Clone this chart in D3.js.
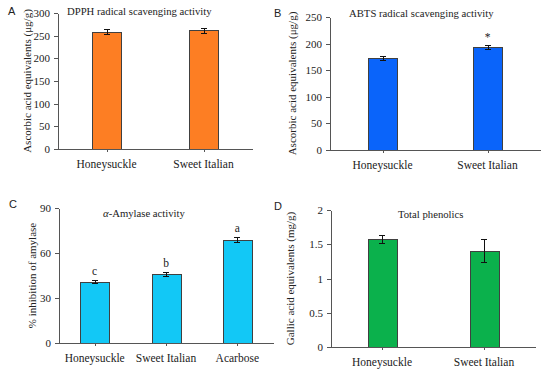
<!DOCTYPE html>
<meta charset="utf-8">
<style>
body { margin: 0; background: #fff; }
svg { display: block; }
.tick text, .xlab, .title, .ylab, .mark { font-family: "Liberation Serif", "Times New Roman", serif; fill: #222; }
.panel { font-family: "Liberation Sans", Arial, sans-serif; font-size: 11px; fill: #222; }
.axis path, .axis line { stroke: #555; shape-rendering: crispEdges; }
.bar { stroke: #404040; stroke-width: 1; shape-rendering: crispEdges; }
.err { stroke: #111; stroke-width: 1; shape-rendering: crispEdges; }
</style>
<body>
<script src="https://cdn.jsdelivr.net/npm/d3@7"></script>
<script>

// data
var cats2 = ["Honeysuckle", "Sweet Italian"];
var cats3 = ["Honeysuckle", "Sweet Italian", "Acarbose"];

var dpphMean = [259, 262];
var dpphErr = [5, 5.5];
var dpphTicks = [0, 50, 100, 150, 200, 250, 300];

var abtsMean = [173, 193];
var abtsErr = [3, 4];
var abtsMarks = ["", "*"];
var abtsTicks = [0, 50, 100, 150, 200, 250];

var amyMean = [41, 46, 69];
var amyErr = [1.2, 1.2, 1.7];
var amyMarks = ["c", "b", "a"];
var amyTicks = [0, 30, 60, 90];

var phenMean = [1.577, 1.406];
var phenErr = [0.055, 0.165];
var phenTicks = [0, 0.5, 1, 1.5, 2];
var phenTickLabels = ["0", "0.5", "1", "1.5", "2"];

var svg = d3.select("body").append("svg")
    .attr("width", 550)
    .attr("height", 377);

var panels = [
  {letter: "A", lx: 8, ly: 15, x0: 58, x1: 252, y0: 149, y1: 13, cats: cats2, mean: dpphMean, err: dpphErr,
   ticks: dpphTicks, color: "#fd7e23", title: "DPPH radical scavenging activity", tx: 67, ty: 15,
   ylab: "Ascorbic acid equivalents (\u03bcg/g)", yl: 27},
  {letter: "B", lx: 274, ly: 17, x0: 330, x1: 540, y0: 150, y1: 17, cats: cats2, mean: abtsMean, err: abtsErr,
   ticks: abtsTicks, color: "#0a64fa", title: "ABTS radical scavenging activity", tx: 349, ty: 17,
   ylab: "Ascorbic acid equivalents (\u03bcg/g)", yl: 292, marks: abtsMarks},
  {letter: "C", lx: 9, ly: 208, x0: 59, x1: 273, y0: 343, y1: 208, cats: cats3, mean: amyMean, err: amyErr,
   ticks: amyTicks, color: "#12c8f6", title: "-Amylase activity", alpha: true, tx: 103, ty: 217,
   ylab: "% inhibition of amylase", yl: 32, marks: amyMarks},
  {letter: "D", lx: 274, ly: 210, x0: 331, x1: 535, y0: 347, y1: 210, cats: cats2, mean: phenMean, err: phenErr,
   ticks: phenTicks, tickLabels: phenTickLabels, color: "#0bb14c", title: "Total phenolics", tx: 398, ty: 218,
   ylab: "Gallic acid equivalents (mg/g)", yl: 290}
];

var barW = 29;

panels.forEach(function(p) {
  var x = d3.scalePoint().domain(p.cats).range([p.x0, p.x1]).padding(0.5);
  var y = d3.scaleLinear().domain([p.ticks[0], p.ticks[p.ticks.length - 1]]).range([p.y0, p.y1]);
  var g = svg.append("g");

  // y axis
  var yAxis = d3.axisLeft(y).tickValues(p.ticks).tickSize(4).tickPadding(4).tickSizeOuter(0);
  if (p.tickLabels) yAxis.tickFormat(function(d, i) { return p.tickLabels[i]; });
  g.append("g").attr("class", "axis")
      .attr("transform", "translate(" + p.x0 + ",0)")
      .call(yAxis)
      .call(function(a) { a.selectAll("text").style("font-size", "11px"); });

  // bars
  var data = p.cats.map(function(c, i) { return {c: c, v: p.mean[i], e: p.err[i], m: p.marks ? p.marks[i] : ""}; });
  g.selectAll(".bar").data(data).enter().append("rect")
      .attr("class", "bar")
      .attr("x", function(d) { return Math.round(x(d.c) - barW / 2) + 0.5; })
      .attr("y", function(d) { return Math.round(y(d.v)) + 0.5; })
      .attr("width", barW)
      .attr("height", function(d) { return Math.round(y(0)) - Math.round(y(d.v)); })
      .attr("fill", p.color);

  // x axis
  g.append("g").attr("class", "axis")
      .attr("transform", "translate(0," + p.y0 + ")")
      .call(d3.axisBottom(x).tickSize(3).tickSizeOuter(0).tickFormat(""));
  g.append("g").selectAll("text").data(p.cats).enter().append("text")
      .attr("class", "xlab")
      .attr("x", function(d) { return x(d); })
      .attr("y", p.y0 + 19)
      .attr("text-anchor", "middle")
      .style("font-size", "11.5px")
      .text(function(d) { return d; });

  // error bars
  var eb = g.selectAll(".eb").data(data).enter().append("g");
  eb.append("line").attr("class", "err")
      .attr("x1", function(d) { return Math.round(x(d.c)) + 0.5; })
      .attr("x2", function(d) { return Math.round(x(d.c)) + 0.5; })
      .attr("y1", function(d) { return y(d.v - d.e); })
      .attr("y2", function(d) { return y(d.v + d.e); });
  [-1, 1].forEach(function(s) {
    eb.append("line").attr("class", "err")
        .attr("x1", function(d) { return x(d.c) - 3; })
        .attr("x2", function(d) { return x(d.c) + 3; })
        .attr("y1", function(d) { return Math.round(y(d.v + s * d.e)) + 0.5; })
        .attr("y2", function(d) { return Math.round(y(d.v + s * d.e)) + 0.5; });
  });
  eb.append("text").attr("class", "mark")
      .attr("x", function(d) { return x(d.c); })
      .attr("y", function(d) { return y(d.v + d.e) - (d.m === "*" ? 4 : 5); })
      .attr("text-anchor", "middle")
      .style("font-size", "11.5px")
      .text(function(d) { return d.m; });

  // title
  var t = g.append("text").attr("class", "title")
      .attr("x", p.tx).attr("y", p.ty)
      .style("font-size", "10.7px");
  if (p.alpha) t.append("tspan").style("font-style", "italic").text("\u03b1");
  t.append("tspan").text(p.title);

  // y label
  g.append("text").attr("class", "ylab")
      .attr("transform", "translate(" + p.yl + "," + ((p.y0 + p.y1) / 2) + ") rotate(-90)")
      .attr("text-anchor", "middle")
      .attr("dy", "0.35em")
      .style("font-size", "11px")
      .text(p.ylab);

  // panel letter
  g.append("text").attr("class", "panel")
      .attr("x", p.lx).attr("y", p.ly)
      .text(p.letter);
});
</script>
</body>
